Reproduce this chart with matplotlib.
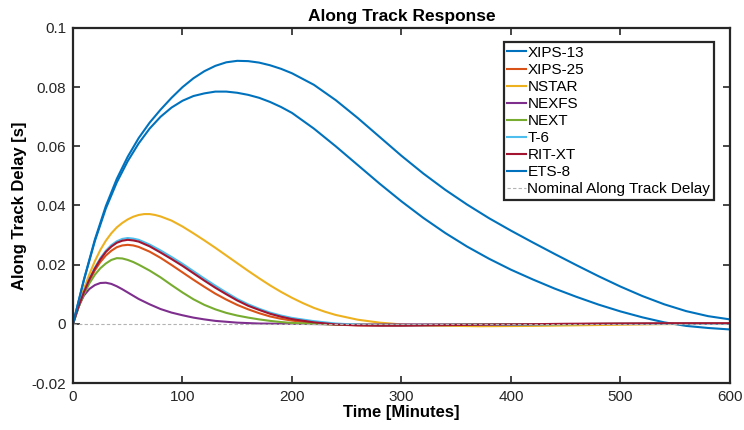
import matplotlib
matplotlib.use("Agg")
import matplotlib.pyplot as plt

plt.rcParams['font.family'] = ['Liberation Sans', 'DejaVu Sans']

# values (time in minutes, delay in s)
t_ets8 = [0, 10, 20, 30, 40, 50, 60, 70, 80, 90, 100, 110, 120, 130, 140, 150, 160, 170, 180,
          190, 200, 220, 240, 260, 280, 300, 320, 340, 360, 380, 400, 420, 440, 460, 480, 500,
          520, 540, 560, 580, 600]
y_ets8 = [0, 0.0150, 0.0285, 0.0398, 0.0490, 0.0565, 0.0628, 0.0680, 0.0724, 0.0764, 0.0800,
          0.0830, 0.0854, 0.0872, 0.0884, 0.0889, 0.0888, 0.0883, 0.0874, 0.0862, 0.0847,
          0.0808, 0.0756, 0.0696, 0.0632, 0.0568, 0.0508, 0.0453, 0.0403, 0.0357, 0.0315,
          0.0275, 0.0236, 0.0198, 0.0161, 0.0126, 0.0094, 0.0066, 0.0043, 0.0026, 0.0015]

t_xips13 = [0, 10, 20, 30, 40, 50, 60, 70, 80, 90, 100, 110, 120, 130, 140, 150, 160, 170, 180,
            190, 200, 220, 240, 260, 280, 300, 320, 340, 360, 380, 400, 420, 440, 460, 480, 500,
            520, 540, 560, 580, 600]
y_xips13 = [0, 0.0148, 0.0280, 0.0390, 0.0478, 0.0550, 0.0610, 0.0660, 0.0700, 0.0731, 0.0754,
            0.0770, 0.0779, 0.0785, 0.0785, 0.0781, 0.0774, 0.0764, 0.0750, 0.0733, 0.0713,
            0.0660, 0.0600, 0.0537, 0.0474, 0.0414, 0.0358, 0.0307, 0.0261, 0.0220, 0.0183,
            0.0150, 0.0119, 0.0091, 0.0065, 0.0042, 0.0022, 0.0005, -0.0007, -0.0014, -0.0019]

t_nstar = [0, 5, 10, 15, 20, 25, 30, 35, 40, 45, 50, 55, 60, 65, 70, 75, 80, 90, 100, 110, 120,
           130, 140, 150, 160, 170, 180, 190, 200, 210, 220, 230, 240, 260, 280, 300, 330, 370,
           420, 480, 540, 600]
y_nstar = [0, 0.0062, 0.0118, 0.0168, 0.0212, 0.0250, 0.0281, 0.0306, 0.0326, 0.0341, 0.0353,
           0.0362, 0.0368, 0.0371, 0.0371, 0.0368, 0.0363, 0.0349, 0.0329, 0.0306, 0.0282,
           0.0257, 0.0231, 0.0205, 0.0179, 0.0154, 0.0130, 0.0108, 0.0088, 0.0070, 0.0054,
           0.0041, 0.0030, 0.0014, 0.0004, -0.0002, -0.0006, -0.0008, -0.0007, -0.0004,
           -0.0001, 0]

t_mid = [0, 5, 10, 15, 20, 25, 30, 35, 40, 45, 50, 55, 60, 70, 80, 90, 100, 110, 120, 130, 140,
         150, 160, 170, 180, 190, 200, 220, 240, 260, 280, 300, 350, 400, 450, 500, 550, 600]
y_t6 = [0, 0.0058, 0.0108, 0.0152, 0.0190, 0.0222, 0.0247, 0.0266, 0.0279, 0.0287, 0.0290,
        0.0288, 0.0284, 0.0268, 0.0248, 0.0226, 0.0203, 0.0178, 0.0153, 0.0129, 0.0106,
        0.0084, 0.0066, 0.0051, 0.0038, 0.0028, 0.0020, 0.0009, 0.0001, -0.0003, -0.0005,
        -0.0005, -0.0004, -0.0003, -0.0001, 0, 0, 0]
y_ritxt = [0, 0.0058, 0.0107, 0.0150, 0.0187, 0.0218, 0.0243, 0.0261, 0.0274, 0.0281, 0.0284,
           0.0282, 0.0278, 0.0262, 0.0241, 0.0219, 0.0196, 0.0171, 0.0146, 0.0122, 0.0100,
           0.0079, 0.0061, 0.0047, 0.0034, 0.0024, 0.0016, 0.0005, -0.0002, -0.0005, -0.0006,
           -0.0006, -0.0004, -0.0002, 0, 0.0001, 0.0002, 0.0002]
y_xips25 = [0, 0.0057, 0.0105, 0.0146, 0.0181, 0.0209, 0.0231, 0.0247, 0.0259, 0.0265, 0.0267,
            0.0265, 0.0260, 0.0244, 0.0223, 0.0199, 0.0174, 0.0149, 0.0125, 0.0102, 0.0082,
            0.0064, 0.0049, 0.0036, 0.0025, 0.0017, 0.0011, 0.0002, -0.0003, -0.0005, -0.0006,
            -0.0006, -0.0004, -0.0002, -0.0001, 0, 0, 0]

t_next = [0, 5, 10, 15, 20, 25, 30, 35, 40, 45, 50, 55, 60, 70, 80, 90, 100, 110, 120, 130, 140,
          150, 160, 170, 180, 190, 200, 220, 250, 300, 350, 400, 500, 600]
y_next = [0, 0.0055, 0.0100, 0.0137, 0.0166, 0.0188, 0.0204, 0.0216, 0.0222, 0.0221, 0.0216,
          0.0209, 0.0200, 0.0180, 0.0157, 0.0131, 0.0106, 0.0083, 0.0064, 0.0049, 0.0037,
          0.0028, 0.0021, 0.0015, 0.0010, 0.0006, 0.0003, 0.0, -0.0003, -0.0004, -0.0003,
          -0.0002, 0, 0]

t_nexfs = [0, 3, 6, 10, 15, 20, 25, 30, 35, 40, 45, 50, 55, 60, 70, 80, 90, 100, 110, 120, 130,
           140, 150, 170, 200, 250, 300, 400, 500, 600]
y_nexfs = [0, 0.0036, 0.0066, 0.0096, 0.0118, 0.0131, 0.0138, 0.0139, 0.0135, 0.0127, 0.0117,
           0.0106, 0.0095, 0.0084, 0.0066, 0.0050, 0.0038, 0.0029, 0.0021, 0.0015, 0.0010,
           0.0007, 0.0004, 0.0001, 0, -0.0002, -0.0002, -0.0001, 0, 0]

nominal_delay = 0.0

fig = plt.figure(figsize=(7.44, 4.30), dpi=100)
ax = fig.add_axes([0.0981, 0.1093, 0.8830, 0.8256])

lw = 1.5
ax.plot(t_xips13, y_xips13, color='#0072BD', lw=lw, label='XIPS-13')
ax.plot(t_mid, y_xips25, color='#D95319', lw=lw, label='XIPS-25')
ax.plot(t_nstar, y_nstar, color='#EDB120', lw=lw, label='NSTAR')
ax.plot(t_nexfs, y_nexfs, color='#7E2F8E', lw=lw, label='NEXFS')
ax.plot(t_next, y_next, color='#77AC30', lw=lw, label='NEXT')
ax.plot(t_mid, y_t6, color='#4DBEEE', lw=lw, label='T-6')
ax.plot(t_mid, y_ritxt, color='#A2142F', lw=lw, label='RIT-XT')
ax.plot(t_ets8, y_ets8, color='#0072BD', lw=lw, label='ETS-8')
ax.axhline(nominal_delay, color='#B3B3B3', ls='--', lw=0.8, dashes=(3, 2),
           label='Nominal Along Track Delay')

ax.set_xlim(0, 600)
ax.set_ylim(-0.02, 0.1)
ax.set_xticks([0, 100, 200, 300, 400, 500, 600])
ax.set_yticks([-0.02, 0, 0.02, 0.04, 0.06, 0.08, 0.1])
ax.set_yticklabels(['-0.02', '0', '0.02', '0.04', '0.06', '0.08', '0.1'])
ax.tick_params(direction='in', top=True, right=True, length=5, width=1.2,
               labelsize=11, pad=5, color='#262626', labelcolor='#262626')
for s in ax.spines.values():
    s.set_linewidth(1.6)
    s.set_color('#262626')

ax.set_title('Along Track Response', fontsize=12.5, fontweight='bold', pad=5)
ax.set_xlabel('Time [Minutes]', fontsize=12, fontweight='bold', labelpad=1)
ax.set_ylabel('Along Track Delay [s]', fontsize=12, fontweight='bold', labelpad=3)

leg = ax.legend(loc='upper right', bbox_to_anchor=(0.9757, 0.9606), fontsize=11,
                handlelength=1.2, handletextpad=0.1, labelspacing=0.2, borderpad=0.25,
                borderaxespad=0, fancybox=False, framealpha=1)
leg.get_frame().set_edgecolor('#262626')
leg.get_frame().set_linewidth(1.6)

fig.savefig('out.png', dpi=100)
